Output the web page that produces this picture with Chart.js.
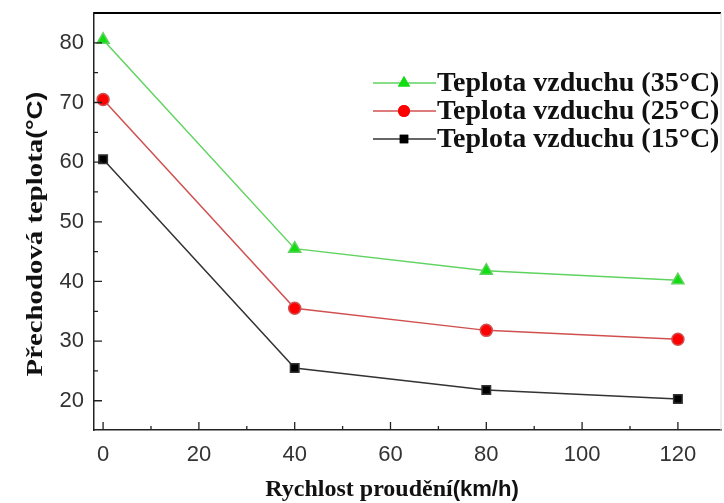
<!DOCTYPE html>
<html>
<head>
<meta charset="utf-8">
<script src="https://cdn.jsdelivr.net/npm/chart.js@4"></script>
<style>
  body { margin: 0; background: #fff; }
  #wrap { width: 724px; height: 503px; position: relative; }
</style>
</head>
<body>
<div id="wrap"><canvas id="myChart"></canvas></div>
<script>
// air speed (km/h) and transition temperature (°C)
var speeds = [0, 40, 80, 120];
var temp35 = [80.5, 45.5, 41.8, 40.2];
var temp25 = [70.5, 35.5, 31.8, 30.3];
var temp15 = [60.5, 25.5, 21.8, 20.3];
var seriesLabels = ["Teplota vzduchu (35°C)", "Teplota vzduchu (25°C)", "Teplota vzduchu (15°C)"];
var xTicks = [0, 20, 40, 60, 80, 100, 120];
var yTicks = [20, 30, 40, 50, 60, 70, 80];

function pts(vals) {
    return speeds.map(function (s, i) { return { x: s, y: vals[i] }; });
}

var ctx = document.getElementById("myChart").getContext("2d");

var data = {
    datasets: [
        {
            label: seriesLabels[0],
            data: pts(temp35),
            borderColor: "#5fd35f",
            backgroundColor: "#11dd11",
            pointStyle: "triangle",
            pointRadius: 7,
            borderWidth: 1.5,
            showLine: true,
        },
        {
            label: seriesLabels[1],
            data: pts(temp25),
            borderColor: "#d05050",
            backgroundColor: "#ff0000",
            pointStyle: "circle",
            pointRadius: 6,
            borderWidth: 1.5,
            showLine: true,
        },
        {
            label: seriesLabels[2],
            data: pts(temp15),
            borderColor: "#333333",
            backgroundColor: "#000000",
            pointStyle: "rect",
            pointRadius: 6,
            borderWidth: 1.5,
            showLine: true,
        },
    ],
};

function noPad(s) {
    s.paddingTop = 0; s.paddingBottom = 0; s.paddingLeft = 0; s.paddingRight = 0;
}

// inward ticks, frame, axis titles and the in-plot legend
var decor = {
    id: "decor",
    afterDraw: function (chart) {
        var c = chart.ctx, a = chart.chartArea;
        var xs = chart.scales.x, ys = chart.scales.y;
        c.save();
        // frame: top black, right light grey
        c.strokeStyle = "#000";
        c.lineWidth = 2;
        c.beginPath(); c.moveTo(a.left, a.top); c.lineTo(a.right, a.top); c.stroke();
        c.strokeStyle = "#d8d8d8";
        c.lineWidth = 1;
        c.beginPath(); c.moveTo(a.right, a.top); c.lineTo(a.right, a.bottom); c.stroke();

        c.strokeStyle = "#222";
        c.lineWidth = 1.3;
        c.beginPath();
        for (var v = 0; v <= 120; v += 10) {
            var px = xs.getPixelForValue(v);
            var len = (v % 20 === 0) ? 8 : 4;
            c.moveTo(px, a.bottom); c.lineTo(px, a.bottom - len);
        }
        for (var w = 20; w <= 80; w += 5) {
            var py = ys.getPixelForValue(w);
            var l2 = (w % 10 === 0) ? 8 : 4;
            c.moveTo(a.left, py); c.lineTo(a.left + l2, py);
        }
        c.stroke();

        // x title: serif part + sans part
        c.fillStyle = "#111";
        c.textBaseline = "alphabetic";
        var f1 = "bold 24px 'Liberation Serif'", f2 = "bold 22px 'Liberation Sans'";
        c.font = f1; var w1 = c.measureText("Rychlost proudění").width;
        c.font = f2; var w2 = c.measureText("(km/h)").width;
        var x0 = 392 - (w1 + w2) / 2;
        c.font = f1; c.fillText("Rychlost proudění", x0, 496);
        c.font = f2; c.fillText("(km/h)", x0 + w1, 496);

        // y title, rotated and slightly stretched along its length
        var f3 = "bold 24px 'Liberation Serif'", f4 = "bold 22px 'Liberation Sans'";
        c.save();
        c.translate(42, 234);
        c.rotate(-Math.PI / 2);
        c.scale(1.2, 1);
        c.font = f3; var w3 = c.measureText("Přechodová teplota").width;
        c.font = f4; var w4 = c.measureText("(°C)").width;
        var y0 = -(w3 + w4) / 2;
        c.font = f3; c.fillText("Přechodová teplota", y0, 0);
        c.font = f4; c.fillText("(°C)", y0 + w3, 0);
        c.restore();

        // legend
        var rows = [83, 111, 139];
        chart.data.datasets.forEach(function (ds, i) {
            var y = rows[i];
            c.strokeStyle = ds.borderColor;
            c.lineWidth = 1.5;
            c.beginPath(); c.moveTo(373, y); c.lineTo(436, y); c.stroke();
            c.fillStyle = ds.backgroundColor;
            c.beginPath();
            Chart.helpers.drawPoint(c, { pointStyle: ds.pointStyle, radius: ds.pointRadius, rotation: 0, borderWidth: 0 }, 404, y);
            c.fill();
            c.fillStyle = "#111";
            c.font = "bold 28px 'Liberation Serif'";
            c.textBaseline = "middle";
            c.fillText(ds.label, 437, y + 1);
        });
        c.restore();
    },
};

var options = {
    responsive: true,
    maintainAspectRatio: false,
    animation: false,
    layout: { autoPadding: false, padding: { left: 0, top: 13, right: 3, bottom: 0 } },
    elements: {
        point: { borderWidth: 0 },
        line: { tension: 0 },
    },
    plugins: {
        legend: { display: false },
        tooltip: { enabled: false },
    },
    scales: {
        x: {
            type: "linear",
            min: -1.9,
            max: 129,
            afterBuildTicks: function (s) { s.ticks = xTicks.map(function (v) { return { value: v }; }); },
            afterFit: function (s) { s.height = 73; noPad(s); },
            grid: { display: true, drawOnChartArea: false, drawTicks: false },
            border: { display: true, color: "#222", width: 1.5 },
            ticks: {
                padding: 12,
                color: "#333",
                font: { family: "'Liberation Sans'", size: 22 },
                maxRotation: 0,
            },
        },
        y: {
            min: 15.1,
            max: 85,
            afterBuildTicks: function (s) { s.ticks = yTicks.map(function (v) { return { value: v }; }); },
            afterFit: function (s) { s.width = 94; noPad(s); },
            grid: { display: true, drawOnChartArea: false, drawTicks: false },
            border: { display: true, color: "#222", width: 1.5 },
            ticks: {
                padding: 10,
                color: "#333",
                font: { family: "'Liberation Sans'", size: 22 },
            },
        },
    },
};

var myChart = new Chart(ctx, {
    type: "scatter",
    data: data,
    options: options,
    plugins: [decor],
});
</script>
</body>
</html>
